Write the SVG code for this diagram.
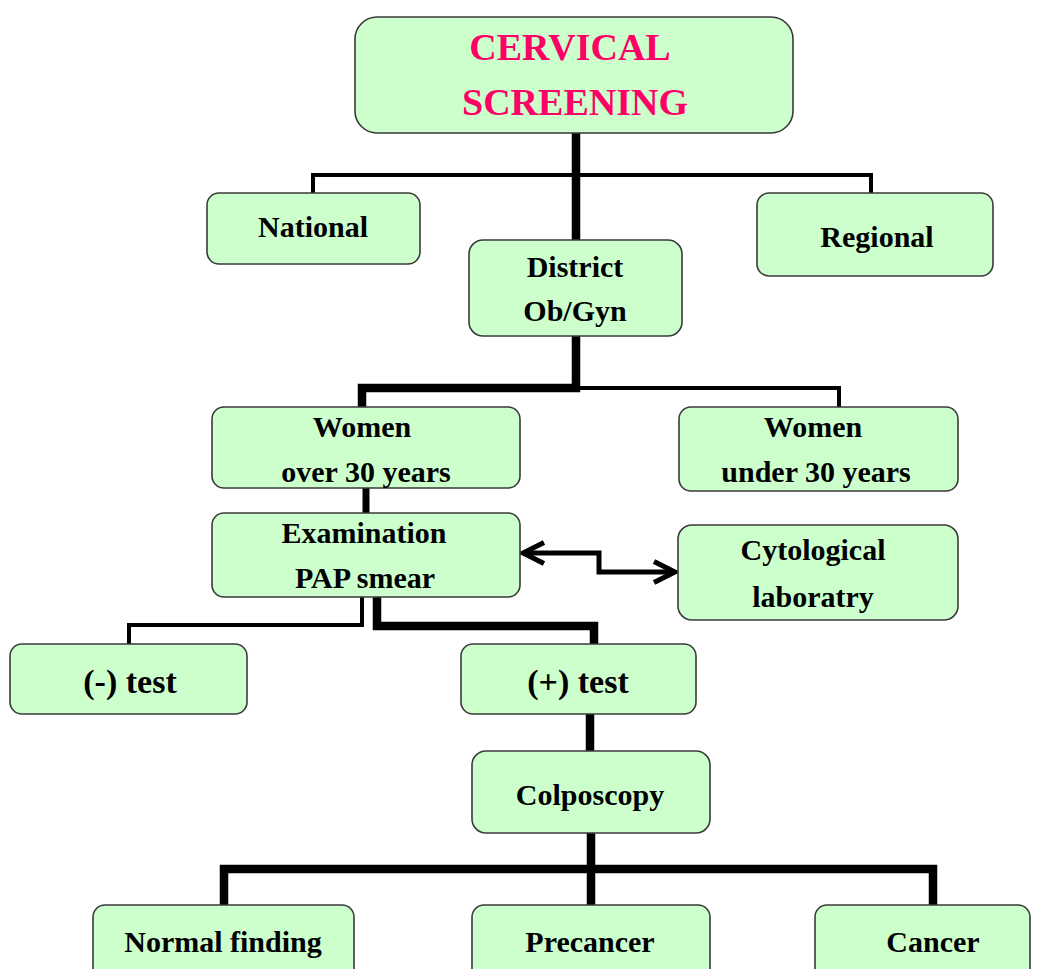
<svg xmlns="http://www.w3.org/2000/svg" width="1040" height="969" viewBox="0 0 1040 969">
<style>
.box{fill:#CCFFCC;stroke:#3a3a3a;stroke-width:1.6}
.t{font-family:"Liberation Serif","Times New Roman",serif;font-weight:bold;font-size:30px;fill:#000;text-anchor:middle}
.big{font-size:34px}
.title{font-size:38px;fill:#FF0066}
.thick{fill:none;stroke:#000;stroke-width:8.5;stroke-linejoin:miter}
.thin{fill:none;stroke:#000;stroke-width:4;stroke-linejoin:miter}
.arr{fill:none;stroke:#000;stroke-width:5;stroke-linejoin:miter}
</style>
<defs>
<marker id="chev" viewBox="0 0 12 12" refX="10.5" refY="6" markerWidth="5.3" markerHeight="5.3" markerUnits="strokeWidth" orient="auto-start-reverse">
<path d="M1,1.2 L10.5,6 L1,10.8" fill="none" stroke="#000" stroke-width="2.3"/>
</marker>
</defs>
<rect width="1040" height="969" fill="#fff"/>
<g id="connectors">
<path class="thin" d="M313,193 V175 H871 V193"/>
<path class="thick" d="M576,133 V240"/>
<path class="thin" d="M576,388 H839 V407"/>
<path class="thick" d="M576,336 V388 H362 V407"/>
<path class="thick" d="M366,488 V513" style="stroke-width:7"/>
<path class="thin" d="M362,597 V625 H129 V644"/>
<path class="thick" d="M377,597 V626 H594 V644"/>
<path class="thick" d="M590,714 V751"/>
<path class="thick" d="M591,833 V905"/>
<path class="thick" d="M224,905 V869 H933 V905"/>
<path class="arr" d="M523,553 H599 V572 H675" marker-start="url(#chev)" marker-end="url(#chev)"/>
</g>
<g id="n-top"><rect class="box" x="355" y="17" width="438" height="116" rx="22"/>
<text class="t title" x="570" y="60">CERVICAL</text>
<text class="t title" x="575" y="115">SCREENING</text></g>
<g id="n-national"><rect class="box" x="207" y="193" width="213" height="71" rx="12"/>
<text class="t" x="313" y="237">National</text></g>
<g id="n-regional"><rect class="box" x="757" y="193" width="236" height="83" rx="12"/>
<text class="t" x="877" y="247">Regional</text></g>
<g id="n-district"><rect class="box" x="469" y="240" width="213" height="96" rx="14"/>
<text class="t" x="575" y="277">District</text>
<text class="t" x="575" y="321">Ob/Gyn</text></g>
<g id="n-women-over"><rect class="box" x="212" y="407" width="308" height="81" rx="12"/>
<text class="t" x="362" y="437">Women</text>
<text class="t" x="366" y="482">over 30 years</text></g>
<g id="n-women-under"><rect class="box" x="679" y="407" width="279" height="84" rx="12"/>
<text class="t" x="813" y="437">Women</text>
<text class="t" x="816" y="482">under 30 years</text></g>
<g id="n-exam"><rect class="box" x="212" y="513" width="308" height="84" rx="12"/>
<text class="t" x="364" y="543">Examination</text>
<text class="t" x="365" y="588">PAP smear</text></g>
<g id="n-cyto"><rect class="box" x="678" y="525" width="280" height="95" rx="14"/>
<text class="t" x="813" y="560">Cytological</text>
<text class="t" x="813" y="607">laboratry</text></g>
<g id="n-neg"><rect class="box" x="10" y="644" width="237" height="70" rx="12"/>
<text class="t big" x="130" y="693">(-) test</text></g>
<g id="n-pos"><rect class="box" x="461" y="644" width="235" height="70" rx="12"/>
<text class="t big" x="578" y="693">(+) test</text></g>
<g id="n-colpo"><rect class="box" x="472" y="751" width="238" height="82" rx="14"/>
<text class="t" x="590" y="805">Colposcopy</text></g>
<g id="n-normal"><rect class="box" x="93" y="905" width="261" height="80" rx="12"/>
<text class="t" x="223" y="952">Normal finding</text></g>
<g id="n-precancer"><rect class="box" x="472" y="905" width="238" height="80" rx="12"/>
<text class="t" x="590" y="952">Precancer</text></g>
<g id="n-cancer"><rect class="box" x="815" y="905" width="215" height="80" rx="12"/>
<text class="t" x="933" y="952">Cancer</text></g>
</svg>
